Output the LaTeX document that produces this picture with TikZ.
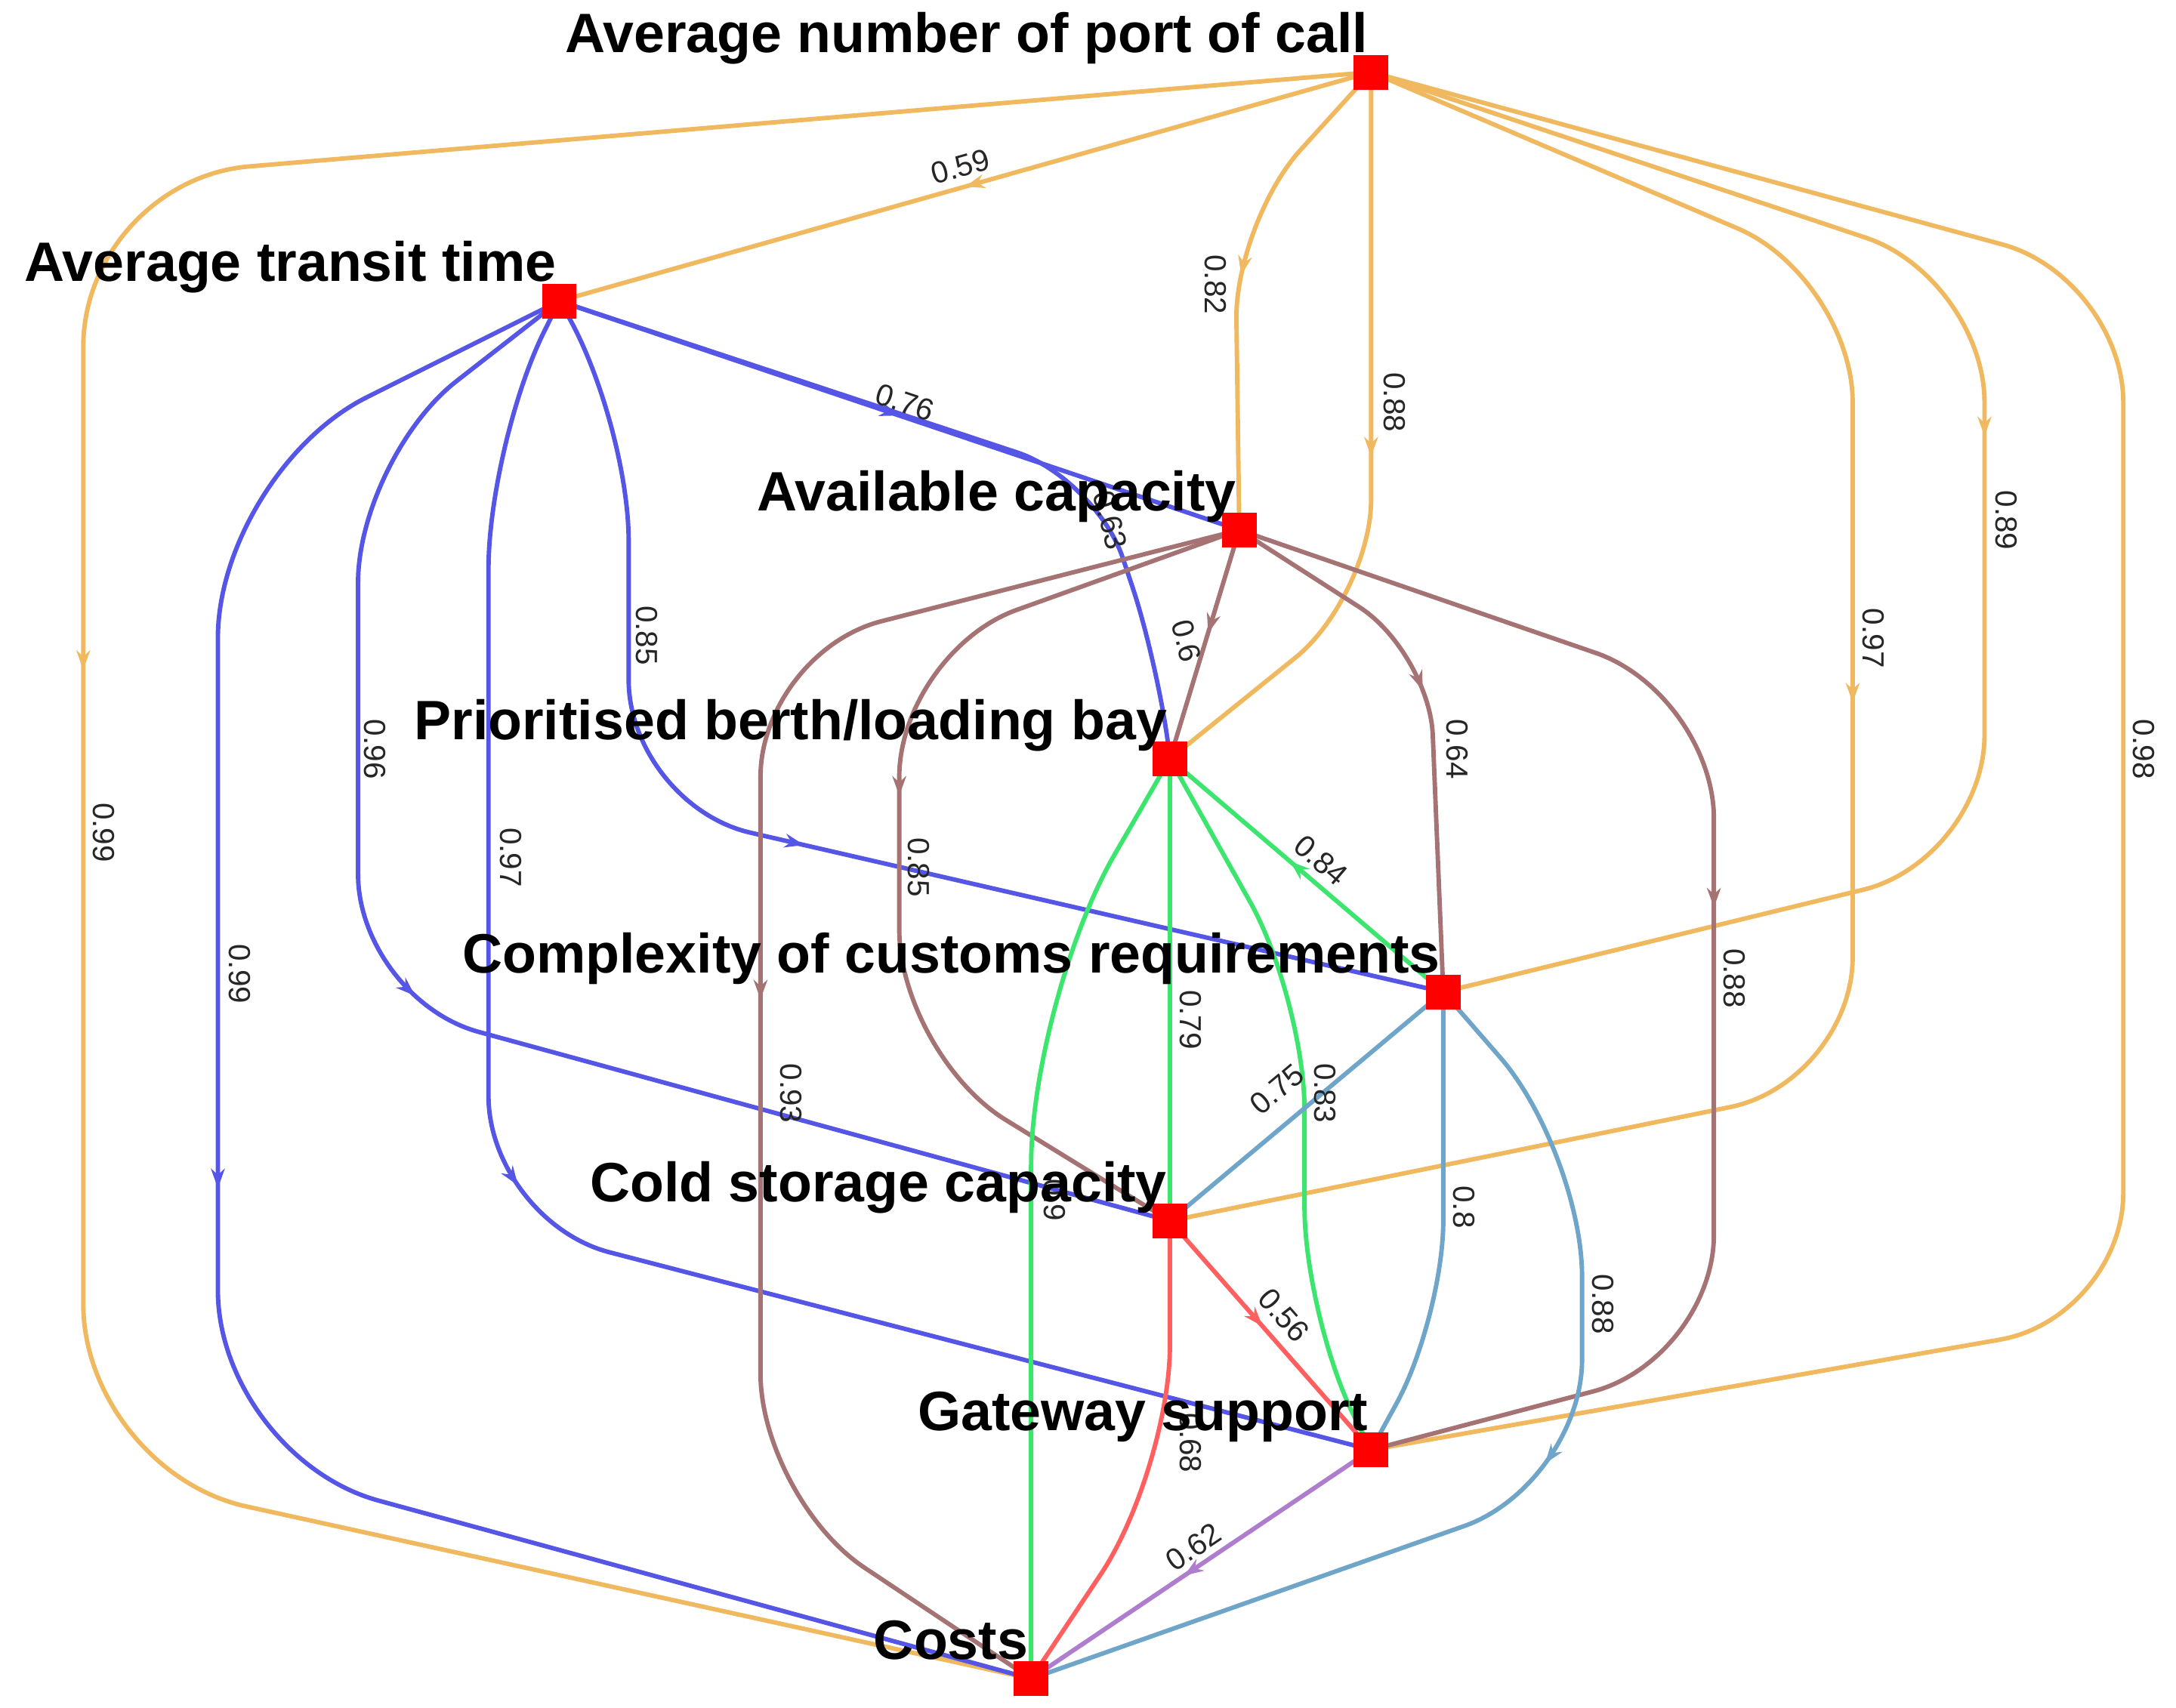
\documentclass[tikz,border=0pt]{standalone}
\usepackage{fontspec}
\setmainfont{Liberation Sans}
\usetikzlibrary{arrows.meta,decorations.markings,calc}
\definecolor{cor}{RGB}{240,185,95}
\definecolor{cbl}{RGB}{85,85,230}
\definecolor{cbr}{RGB}{165,115,115}
\definecolor{cgr}{RGB}{60,230,110}
\definecolor{cst}{RGB}{110,165,200}
\definecolor{crd}{RGB}{255,95,95}
\definecolor{cpu}{RGB}{175,125,205}
\tikzset{
  vtx/.style={fill=red,draw=none,minimum size=25pt,inner sep=0pt},
  vlab/.style={font=\bfseries\fontsize{40}{44}\selectfont,anchor=base east,inner sep=0pt},
  elab/.style={font=\fontsize{22}{24}\selectfont,text=black!85,inner sep=1pt},
  edge/.style={line width=3.2pt,rounded corners=90pt},
  mid/.style={postaction={decorate,decoration={markings,mark=at position #1 with {\arrow{Stealth[length=14pt,width=10pt]}}}}}
}
\begin{document}
\begin{tikzpicture}[x=1pt,y=-1pt]
\useasboundingbox (0,0) rectangle (1568,1231);
\coordinate (A) at (988,52);
\coordinate (T) at (403,217);
\coordinate (C) at (893,382);
\coordinate (P) at (843,547);
\coordinate (X) at (1040,715);
\coordinate (S) at (843,880);
\coordinate (G) at (988,1045);
\coordinate (K) at (743,1210);
% orange
\draw[edge,cor,mid=0.5] (A) -- (T);
\draw[edge,cor,mid=0.5,rounded corners=120pt] (A) -- (60,130) -- (60,1060) -- (K);
\draw[edge,cor,mid=0.49,rounded corners=70pt] (A) -- (890,160) -- (C);
\draw[edge,cor,mid=0.5,rounded corners=70pt] (A) -- (988,430) -- (P);
\draw[edge,cor,mid=0.45] (A) -- (1430,200) -- (1430,620) -- (X);
\draw[edge,cor,mid=0.47] (A) -- (1335,200) -- (1335,780) -- (S);
\draw[edge,cor] (A) -- (1530,200) -- (1530,950) -- (G);
% blue
\draw[edge,cbl,mid=0.5] (T) -- (C);
\draw[edge,cbl,rounded corners=60pt] (T) -- (790,345) -- (835,480) -- (P);
\draw[edge,cbl,mid=0.5] (T) -- (453,300) -- (453,580) -- (X);
\draw[edge,cbl,mid=0.5] (T) -- (258,330) -- (258,720) -- (S);
\draw[edge,cbl,mid=0.5] (T) -- (352,320) -- (352,880) -- (G);
\draw[edge,cbl,mid=0.5,rounded corners=120pt] (T) -- (157,340) -- (157,1050) -- (K);
% brown
\draw[edge,cbr,mid=0.45] (C) -- (P);
\draw[edge,cbr,mid=0.45,rounded corners=60pt] (C) -- (1030,470) -- (X);
\draw[edge,cbr,mid=0.46] (C) -- (648,470) -- (648,760) -- (S);
\draw[edge,cbr,mid=0.5] (C) -- (548,470) -- (548,1080) -- (K);
\draw[edge,cbr,mid=0.47] (C) -- (1235,500) -- (1235,980) -- (G);
% green
\draw[edge,cgr,mid=0.56] (X) -- (P);
\draw[edge,cgr] (P) -- (S);
\draw[edge,cgr,rounded corners=80pt] (P) -- (940,720) -- (940,950) -- (G);
\draw[edge,cgr,rounded corners=120pt] (P) -- (743,720) -- (K);
% steel
\draw[edge,cst] (X) -- (S);
\draw[edge,cst,rounded corners=70pt] (X) -- (1040,950) -- (G);
\draw[edge,cst,mid=0.48] (X) -- (1140,830) -- (1140,1070) -- (K);
% red
\draw[edge,crd,mid=0.46] (S) -- (G);
\draw[edge,crd,rounded corners=90pt] (S) -- (843,1060) -- (K);
% purple
\draw[edge,cpu,mid=0.55] (G) -- (K);
% edge labels
\node[elab,rotate=15.7] (l1) at (692,120) {0.59};
\node[elab,rotate=-90] (l2) at (75,600) {0.99};
\node[elab,rotate=-90] (l3) at (876,205) {0.82};
\node[elab,rotate=-90] (l4) at (1005,290) {0.88};
\node[elab,rotate=-90] (l5) at (1446,375) {0.89};
\node[elab,rotate=-90] (l6) at (1350,460) {0.97};
\node[elab,rotate=-90] (l7) at (1545,540) {0.98};
\node[elab,rotate=-18.6] (l8) at (652,290) {0.76};
\node[elab,rotate=-75] (l9) at (800,375) {0.63};
\node[elab,rotate=-90] (l10) at (466,458) {0.85};
\node[elab,rotate=-90] (l11) at (270,540) {0.96};
\node[elab,rotate=-90] (l12) at (368,618) {0.97};
\node[elab,rotate=-90] (l13) at (173,702) {0.99};
\node[elab,rotate=-75] (l14) at (855,462) {0.6};
\node[elab,rotate=-90] (l15) at (1050,540) {0.64};
\node[elab,rotate=-90] (l16) at (662,625) {0.85};
\node[elab,rotate=-90] (l17) at (570,788) {0.93};
\node[elab,rotate=-90] (l18) at (1250,705) {0.88};
\node[elab,rotate=-40.5] (l19) at (952,620) {0.84};
\node[elab,rotate=-90] (l20) at (858,735) {0.79};
\node[elab,rotate=-90] (l21) at (955,788) {0.83};
\node[elab,rotate=-90] (l22) at (760,865) {0.9};
\node[elab,rotate=40] (l23) at (920,785) {0.75};
\node[elab,rotate=-90] (l24) at (1055,870) {0.8};
\node[elab,rotate=-90] (l25) at (1155,940) {0.88};
\node[elab,rotate=-48.7] (l26) at (925,948) {0.56};
\node[elab,rotate=-90] (l27) at (858,1040) {0.68};
\node[elab,rotate=34] (l28) at (860,1115) {0.62};
% vertices
\foreach \n in {A,T,C,P,X,S,G,K} \node[vtx] (v\n) at (\n) {};
\node[vlab] (tA) at ($(A)+(-2,-14)$) {Average number of port of call};
\node[vlab] (tT) at ($(T)+(-2,-14)$) {Average transit time};
\node[vlab] (tC) at ($(C)+(-2,-14)$) {Available capacity};
\node[vlab] (tP) at ($(P)+(-2,-14)$) {Prioritised berth/loading bay};
\node[vlab] (tX) at ($(X)+(-2,-14)$) {Complexity of customs requirements};
\node[vlab] (tS) at ($(S)+(-2,-14)$) {Cold storage capacity};
\node[vlab] (tG) at ($(G)+(-2,-14)$) {Gateway support};
\node[vlab] (tK) at ($(K)+(-2,-14)$) {Costs};
\end{tikzpicture}
\end{document}
